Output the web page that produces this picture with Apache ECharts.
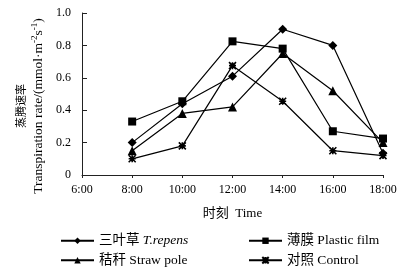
<!DOCTYPE html>
<html><head><meta charset="utf-8">
<script src="https://cdn.jsdelivr.net/npm/echarts@6/dist/echarts.min.js"></script>
<style>html,body{margin:0;padding:0;background:#fff}#c{width:414px;height:276px}</style>
</head><body><div id="c"></div>
<script>
var categories = ['6:00','8:00','10:00','12:00','14:00','16:00','18:00'];
var trepens = [null, 0.20, 0.44, 0.61, 0.90, 0.80, 0.135];
var plastic = [null, 0.33, 0.455, 0.825, 0.78, 0.27, 0.225];
var straw = [null, 0.15, 0.38, 0.42, 0.75, 0.52, 0.20];
var control = [null, 0.10, 0.18, 0.675, 0.455, 0.15, 0.12];
var yTicks = [0, 0.2, 0.4, 0.6, 0.8, 1.0];

var FONT = '"Liberation Serif","Noto Sans CJK SC",serif';
var chart = echarts.init(document.getElementById('c'));
function mk(name, data, symbol, size) {
  return {
    name: name, type: 'line', data: data, symbol: symbol, symbolSize: size,
    showSymbol: true, connectNulls: false,
    lineStyle: {color: '#000', width: 1.2},
    itemStyle: {color: '#000', borderColor: '#000', borderWidth: symbol.indexOf('path') === 0 ? 1.6 : 0},
    emphasis: {disabled: true}, animation: false
  };
}
var star = 'path://M0,0L10,10M10,0L0,10M5,0L5,10M0,5L10,5';
chart.setOption({
  animation: false,
  textStyle: {fontFamily: FONT, color: '#000'},
  grid: {left: 82, right: 31, top: 13, bottom: 101, outerBoundsMode: 'none', containLabel: false},
  xAxis: {
    type: 'category', data: categories, boundaryGap: false,
    axisLine: {lineStyle: {color: '#222', width: 1}},
    axisTick: {show: true, length: 3, inside: false, lineStyle: {color: '#222'}},
    axisLabel: {fontFamily: FONT, fontSize: 12, color: '#000', margin: 9},
    name: '时刻  Time', nameLocation: 'middle', nameGap: 32,
    nameTextStyle: {fontFamily: FONT, fontSize: 13, color: '#000'}
  },
  yAxis: {
    type: 'value', min: 0, max: 1.0, interval: 0.2,
    axisLine: {show: true, lineStyle: {color: '#222', width: 1}},
    axisTick: {show: true, inside: true, length: 5, lineStyle: {color: '#222'}},
    splitLine: {show: false},
    axisLabel: {fontFamily: FONT, fontSize: 12, color: '#000', margin: 11,
      formatter: function (v) { return v === 0 ? '0' : v.toFixed(1); }},
    name: '{c|蒸腾速率}\n{e|Transpiration rate/(mmol·m}{s|-2}{e|s}{s|-1}{e|)}',
    nameLocation: 'middle', nameGap: 29, nameRotate: 90,
    nameTextStyle: {fontFamily: FONT, color: '#000', padding: [0, 24, 0, 0],
      rich: {
        c: {fontFamily: FONT, fontSize: 11, lineHeight: 17, color: '#000'},
        e: {fontFamily: FONT, fontSize: 13.5, lineHeight: 16, color: '#000'},
        s: {fontFamily: FONT, fontSize: 9, lineHeight: 16, verticalAlign: 'top', color: '#000'}
      }}
  },
  legend: [{
    orient: 'vertical', left: 55, top: 229, itemWidth: 33, itemHeight: 8, itemGap: 6,
    data: ['三叶草 T.repens', '秸秆 Straw pole'],
    textStyle: {fontFamily: FONT, fontSize: 13.5, color: '#000',
      rich: {i: {fontFamily: FONT, fontSize: 13.5, fontStyle: 'italic', color: '#000'}}},
    formatter: function (n) { return n === '三叶草 T.repens' ? '三叶草 {i|T.repens}' : n; }
  }, {
    orient: 'vertical', left: 243, top: 229, itemWidth: 33, itemHeight: 8, itemGap: 6,
    data: ['薄膜 Plastic film', '对照 Control'],
    textStyle: {fontFamily: FONT, fontSize: 13.5, color: '#000'}
  }],
  series: [
    mk('三叶草 T.repens', trepens, 'diamond', 9),
    mk('薄膜 Plastic film', plastic, 'rect', 8),
    mk('秸秆 Straw pole', straw, 'triangle', 9),
    mk('对照 Control', control, star, 7)
  ]
});
</script></body></html>
